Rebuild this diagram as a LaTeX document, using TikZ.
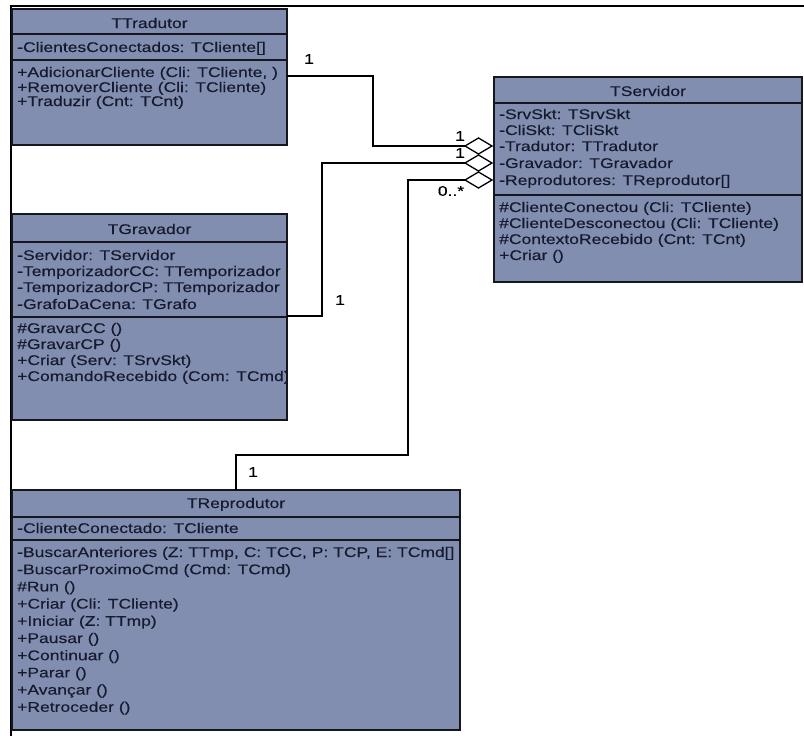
\documentclass[tikz,border=0pt]{standalone}
\usepackage{fontspec}
\setmainfont{Liberation Sans}[FakeStretch=1.25, FakeBold=0.3]
\usetikzlibrary{shapes.geometric}

\definecolor{classfill}{RGB}{130,142,176}
\definecolor{classink}{RGB}{22,26,46}
\definecolor{edgeink}{RGB}{22,22,30}

\tikzset{
  classbox/.style={rectangle, draw=edgeink, line width=1.6pt, fill=classfill,
    inner sep=0pt, outer sep=0pt, anchor=north west},
  member/.style={anchor=base west, inner sep=0pt, text=classink,
    font=\fontsize{14}{16}\selectfont},
  classname/.style={anchor=base, inner sep=0pt, text=classink,
    font=\fontsize{14}{16}\selectfont},
  sepline/.style={draw=edgeink, line width=1.4pt},
  assoc/.style={draw=black, line width=1.3pt},
  agg/.style={diamond, draw=black, fill=white, line width=1.3pt,
    minimum width=27pt, minimum height=16pt, inner sep=0pt, outer sep=0pt},
  mult/.style={inner sep=0pt, text=black, font=\fontsize{14}{16}\selectfont},
  framerule/.style={draw=black, line width=2.6pt},
}

\begin{document}
\begin{tikzpicture}[x=1pt, y=-1pt]
\useasboundingbox (0,0) rectangle (804,736);

% outer frame rules
\coordinate (frameNW) at (11,6);
\coordinate (frameNE) at (804,6);
\coordinate (frameSW) at (11,736);
\draw[framerule] (frameNE) -- (frameNW) -- (frameSW);

% ---------------- TTradutor ----------------
\node[classbox, minimum width=275pt, minimum height=136pt] (tradutor) at (12,9) {};
\begin{scope}
  \clip (tradutor.north west) rectangle (tradutor.south east);
  \node[classname] (tr-name) at (149.5,28) {TTradutor};
  \node[member] (tr-a1) at (17,52) {-ClientesConectados: TCliente[]};
  \node[member] (tr-m1) at (17,77) {+AdicionarCliente (Cli: TCliente, )};
  \node[member] (tr-m2) at (17,92) {+RemoverCliente (Cli: TCliente)};
  \node[member] (tr-m3) at (17,106) {+Traduzir (Cnt: TCnt)};
\end{scope}
\draw[sepline] (tradutor.west |- 0,34) -- (tradutor.east |- 0,34);
\draw[sepline] (tradutor.west |- 0,60) -- (tradutor.east |- 0,60);
\draw[draw=edgeink, line width=1.6pt] (tradutor.north west) rectangle (tradutor.south east);

% ---------------- TGravador ----------------
\node[classbox, minimum width=275pt, minimum height=206pt] (gravador) at (12,214) {};
\begin{scope}
  \clip (gravador.north west) rectangle (gravador.south east);
  \node[classname] (gr-name) at (149.5,234) {TGravador};
  \node[member] (gr-a1) at (17,260) {-Servidor: TServidor};
  \node[member] (gr-a2) at (17,276) {-TemporizadorCC: TTemporizador};
  \node[member] (gr-a3) at (17,292) {-TemporizadorCP: TTemporizador};
  \node[member] (gr-a4) at (17,309) {-GrafoDaCena: TGrafo};
  \node[member] (gr-m1) at (17,333) {\#GravarCC ()};
  \node[member] (gr-m2) at (17,349) {\#GravarCP ()};
  \node[member] (gr-m3) at (17,365) {+Criar (Serv: TSrvSkt)};
  \node[member] (gr-m4) at (17,381) {+ComandoRecebido (Com: TCmd)};
\end{scope}
\draw[sepline] (gravador.west |- 0,242) -- (gravador.east |- 0,242);
\draw[sepline] (gravador.west |- 0,317) -- (gravador.east |- 0,317);
\draw[draw=edgeink, line width=1.6pt] (gravador.north west) rectangle (gravador.south east);

% ---------------- TServidor ----------------
\node[classbox, minimum width=308pt, minimum height=205pt] (servidor) at (494,77) {};
\begin{scope}
  \clip (servidor.north west) rectangle (servidor.south east);
  \node[classname] (sv-name) at (648,96) {TServidor};
  \node[member] (sv-a1) at (499,119) {-SrvSkt: TSrvSkt};
  \node[member] (sv-a2) at (499,135) {-CliSkt: TCliSkt};
  \node[member] (sv-a3) at (499,151) {-Tradutor: TTradutor};
  \node[member] (sv-a4) at (499,168) {-Gravador: TGravador};
  \node[member] (sv-a5) at (499,185) {-Reprodutores: TReprodutor[]};
  \node[member] (sv-m1) at (499,212) {\#ClienteConectou (Cli: TCliente)};
  \node[member] (sv-m2) at (499,228) {\#ClienteDesconectou (Cli: TCliente)};
  \node[member] (sv-m3) at (499,244) {\#ContextoRecebido (Cnt: TCnt)};
  \node[member] (sv-m4) at (499,260) {+Criar ()};
\end{scope}
\draw[sepline] (servidor.west |- 0,103) -- (servidor.east |- 0,103);
\draw[sepline] (servidor.west |- 0,195) -- (servidor.east |- 0,195);
\draw[draw=edgeink, line width=1.6pt] (servidor.north west) rectangle (servidor.south east);

% ---------------- TReprodutor ----------------
\node[classbox, minimum width=448pt, minimum height=240pt] (reprodutor) at (12,490) {};
\begin{scope}
  \clip (reprodutor.north west) rectangle (reprodutor.south east);
  \node[classname] (rp-name) at (236,508) {TReprodutor};
  \node[member] (rp-a1) at (17,533) {-ClienteConectado: TCliente};
  \node[member] (rp-m1) at (17,557) {-BuscarAnteriores (Z: TTmp, C: TCC, P: TCP, E: TCmd[]};
  \node[member] (rp-m2) at (17,574.2) {-BuscarProximoCmd (Cmd: TCmd)};
  \node[member] (rp-m3) at (17,591.4) {\#Run ()};
  \node[member] (rp-m4) at (17,608.6) {+Criar (Cli: TCliente)};
  \node[member] (rp-m5) at (17,625.8) {+Iniciar (Z: TTmp)};
  \node[member] (rp-m6) at (17,643) {+Pausar ()};
  \node[member] (rp-m7) at (17,660.2) {+Continuar ()};
  \node[member] (rp-m8) at (17,677.4) {+Parar ()};
  \node[member] (rp-m9) at (17,694.6) {+Avançar ()};
  \node[member] (rp-m10) at (17,711.8) {+Retroceder ()};
\end{scope}
\draw[sepline] (reprodutor.west |- 0,517) -- (reprodutor.east |- 0,517);
\draw[sepline] (reprodutor.west |- 0,540) -- (reprodutor.east |- 0,540);
\draw[draw=edgeink, line width=1.6pt] (reprodutor.north west) rectangle (reprodutor.south east);

% ---------------- aggregation diamonds on TServidor ----------------
\node[agg] (d-tr) at (478.5,146) {};
\node[agg] (d-gr) at (478.5,163) {};
\node[agg] (d-rp) at (478.5,180) {};

% ---------------- associations ----------------
\coordinate (bend-tr) at (373,76);
\draw[assoc] (bend-tr -| tradutor.east) -- (bend-tr) |- (d-tr.west);

\coordinate (bend-gr) at (322,316);
\draw[assoc] (bend-gr -| gravador.east) -- (bend-gr) |- (d-gr.west);

\coordinate (bend-rp1) at (236,455);
\coordinate (bend-rp2) at (408,455);
\draw[assoc] (bend-rp1 |- reprodutor.north) -- (bend-rp1) -- (bend-rp2) |- (d-rp.west);

% ---------------- multiplicities ----------------
\node[mult] (mu-tr1) at (309,59) {1};
\node[mult] (mu-tr2) at (460,136) {1};
\node[mult] (mu-gr2) at (460,153) {1};
\node[mult] (mu-rp2) at (451,191) {0..*};
\node[mult] (mu-gr1) at (340,300) {1};
\node[mult] (mu-rp1) at (253,472) {1};
\end{tikzpicture}
\end{document}
